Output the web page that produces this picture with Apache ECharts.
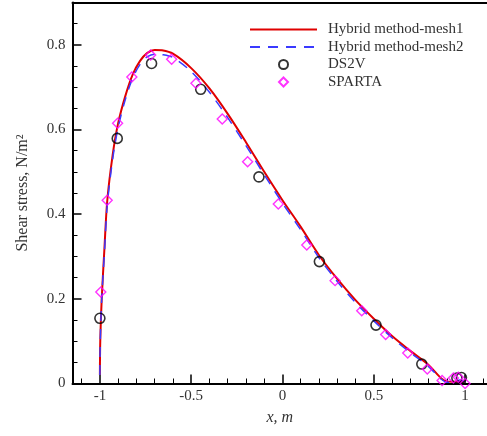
<!DOCTYPE html>
<html>
<head>
<meta charset="utf-8">
<script src="https://cdn.jsdelivr.net/npm/echarts@6/dist/echarts.min.js"></script>
<style>html,body{margin:0;padding:0;background:#fff}#c{width:487px;height:436px}</style>
</head>
<body>
<div id="c"></div>
<script>
// ---- data ----
const mesh1X = [-1.0, -0.998, -0.99, -0.975, -0.96, -0.93, -0.9, -0.86, -0.82, -0.78, -0.74, -0.7, -0.66, -0.6, -0.5, -0.4, -0.3, -0.2, -0.1, 0.0, 0.1, 0.2, 0.3, 0.4, 0.5, 0.6, 0.7, 0.8, 0.87, 0.9, 0.95, 1.0];
const mesh1Y = [0.02, 0.1, 0.2, 0.32, 0.43, 0.54, 0.615, 0.68, 0.73, 0.762, 0.781, 0.788, 0.787, 0.779, 0.745, 0.697, 0.637, 0.57, 0.5, 0.433, 0.37, 0.303, 0.247, 0.197, 0.153, 0.112, 0.077, 0.044, 0.012, 0.005, 0.004, 0.005];
const mesh2X = [-1.0, -0.998, -0.99, -0.975, -0.96, -0.93, -0.9, -0.86, -0.82, -0.78, -0.74, -0.7, -0.66, -0.6, -0.5, -0.4, -0.3, -0.2, -0.1, 0.0, 0.1, 0.2, 0.3, 0.4, 0.5, 0.6, 0.7, 0.8, 0.87, 0.9, 0.95, 0.97, 1.0];
const mesh2Y = [0.02, 0.1, 0.2, 0.31, 0.42, 0.53, 0.605, 0.672, 0.722, 0.754, 0.772, 0.778, 0.777, 0.77, 0.737, 0.688, 0.628, 0.562, 0.493, 0.426, 0.363, 0.297, 0.241, 0.191, 0.148, 0.108, 0.073, 0.04, 0.01, 0.003, 0.003, 0.008, 0.004];
const ds2vX = [-1.0, -0.905, -0.717, -0.448, -0.129, 0.202, 0.512, 0.763, 0.955, 0.98];
const ds2vY = [0.154, 0.579, 0.756, 0.695, 0.488, 0.288, 0.138, 0.046, 0.013, 0.014];
const spartaX = [-0.995, -0.96, -0.903, -0.825, -0.722, -0.607, -0.474, -0.33, -0.191, -0.023, 0.133, 0.288, 0.434, 0.565, 0.686, 0.793, 0.874, 0.936, 0.963, 1.0];
const spartaY = [0.216, 0.433, 0.615, 0.724, 0.776, 0.766, 0.709, 0.625, 0.524, 0.424, 0.327, 0.243, 0.172, 0.116, 0.072, 0.034, 0.007, 0.013, 0.015, 0.0];
const xMajor = [-1, -0.5, 0, 0.5, 1];
const xMinor = [-1.1, -0.9, -0.8, -0.7, -0.6, -0.4, -0.3, -0.2, -0.1, 0.1, 0.2, 0.3, 0.4, 0.6, 0.7, 0.8, 0.9, 1.1];
const yMajor = [0, 0.2, 0.4, 0.6, 0.8];
const yMinor = [0.05, 0.1, 0.15, 0.25, 0.3, 0.35, 0.45, 0.5, 0.55, 0.65, 0.7, 0.75, 0.85];
const names = ['Hybrid method-mesh1', 'Hybrid method-mesh2', 'DS2V', 'SPARTA'];

const zip = (a, b) => a.map((v, i) => [v, b[i]]);
const FONT = 'Liberation Serif';
const XMIN = -1.15, XMAX = 1.12, YMIN = 0, YMAX = 0.9;
const fmt = v => (Math.abs(v) < 1e-9 ? '0' : String(+v.toFixed(2)));

const chart = echarts.init(document.getElementById('c'), null, {renderer: 'canvas'});
chart.setOption({
  animation: false,
  backgroundColor: '#fff',
  grid: {left: 72.5, top: 2.5, right: 0, bottom: 52.5, containLabel: false},
  legend: {
    orient: 'vertical', left: 244, top: 17,
    itemWidth: 67, itemHeight: 9, itemGap: 2.5,
    symbolKeepAspect: true,
    data: [
      {name: names[0], itemStyle: {opacity: 0}},
      {name: names[1], itemStyle: {opacity: 0}},
      {name: names[2]},
      {name: names[3], icon: 'path://M0,-1L1,0L0,1L-1,0Z'}
    ],
    textStyle: {fontFamily: FONT, fontSize: 15, color: '#333', padding: [0, 0, 0, 6]}
  },
  xAxis: [
    {
      type: 'value', min: XMIN, max: XMAX, position: 'bottom',
      name: 'x, m', nameLocation: 'middle', nameGap: 26,
      nameTextStyle: {fontFamily: FONT, fontSize: 16, fontStyle: 'italic', color: '#333'},
      axisLine: {show: true, onZero: false, lineStyle: {color: '#000', width: 2}},
      axisTick: {show: true, inside: true, length: 9, lineStyle: {color: '#000', width: 1.5}, customValues: xMajor},
      axisLabel: {fontFamily: FONT, fontSize: 15, color: '#333', margin: 5, customValues: xMajor, formatter: fmt},
      splitLine: {show: false}
    },
    {
      type: 'value', min: XMIN, max: XMAX, position: 'bottom',
      axisLine: {show: false, onZero: false},
      axisTick: {show: true, inside: true, length: 5, lineStyle: {color: '#000', width: 1}, customValues: xMinor},
      axisLabel: {show: false},
      splitLine: {show: false}
    },
    {
      type: 'value', min: XMIN, max: XMAX, position: 'top',
      axisLine: {show: true, onZero: false, lineStyle: {color: '#000', width: 2}},
      axisTick: {show: false}, axisLabel: {show: false}, splitLine: {show: false}
    }
  ],
  yAxis: [
    {
      type: 'value', min: YMIN, max: YMAX, position: 'left',
      name: 'Shear stress, N/m²', nameLocation: 'middle', nameGap: 42,
      nameTextStyle: {fontFamily: FONT, fontSize: 16, color: '#333'},
      axisLine: {show: true, onZero: false, lineStyle: {color: '#000', width: 2}},
      axisTick: {show: true, inside: true, length: 9, lineStyle: {color: '#000', width: 1.5}, customValues: yMajor},
      axisLabel: {fontFamily: FONT, fontSize: 15, color: '#333', margin: 7, customValues: yMajor, formatter: fmt},
      splitLine: {show: false}
    },
    {
      type: 'value', min: YMIN, max: YMAX, position: 'left',
      axisLine: {show: false, onZero: false},
      axisTick: {show: true, inside: true, length: 5, lineStyle: {color: '#000', width: 1}, customValues: yMinor},
      axisLabel: {show: false},
      splitLine: {show: false}
    }
  ],
  series: [
    {
      name: names[0], type: 'line', data: zip(mesh1X, mesh1Y), symbol: 'none', smooth: 0.3,
      lineStyle: {color: '#e00000', width: 2}, itemStyle: {color: '#e00000'}, z: 2
    },
    {
      name: names[1], type: 'line', data: zip(mesh2X, mesh2Y), symbol: 'none', smooth: 0.3,
      lineStyle: {color: '#3a3aff', width: 1.5, type: [10, 8]}, itemStyle: {color: '#3a3aff'}, z: 3
    },
    {
      name: names[2], type: 'scatter', data: zip(ds2vX, ds2vY), symbol: 'circle', symbolSize: 10,
      itemStyle: {color: 'rgba(0,0,0,0)', borderColor: '#000', borderWidth: 1.6}, z: 4
    },
    {
      name: names[3], type: 'scatter', data: zip(spartaX, spartaY), symbol: 'diamond', symbolSize: 10,
      itemStyle: {color: 'rgba(0,0,0,0)', borderColor: '#ff00ff', borderWidth: 1.4}, z: 5
    }
  ]
});
</script>
</body>
</html>
